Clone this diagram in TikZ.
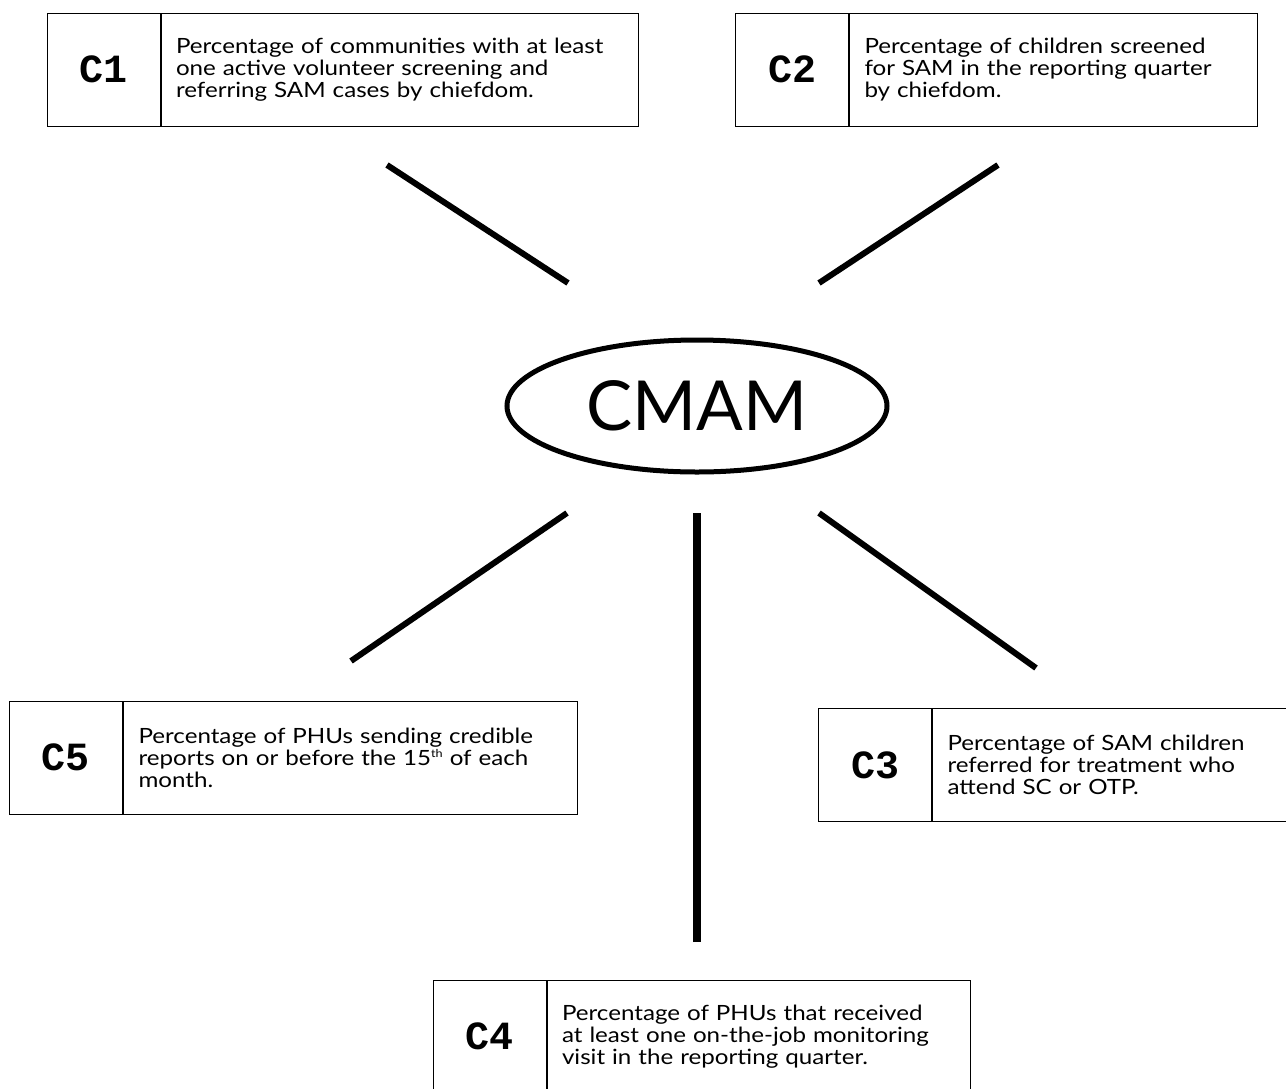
\documentclass[tikz,border=0pt]{standalone}
\usepackage{fontspec}
\setmainfont{Lato}
\setmonofont{Liberation Mono}
\newfontfamily\notefont{Lato}[FakeStretch=1.15]
\usetikzlibrary{shapes,positioning}

\begin{document}
\begin{tikzpicture}[x=1pt, y=-1pt,
    codebox/.style={rectangle, draw, line width=1pt, minimum width=113pt, minimum height=113pt, inner sep=0pt, font=\ttfamily\bfseries\fontsize{40}{40}\selectfont},
    notebox/.style={rectangle, draw, line width=1pt, minimum height=113pt, inner xsep=15pt, inner ysep=0pt, align=left, font=\notefont\fontsize{21}{22}\selectfont},
    spoke/.style={line width=6pt}]
    \clip (0,0) rectangle (1286,1088);

    % hub
    \node (cmam) [ellipse, draw, line width=5pt, minimum width=380pt, minimum height=132pt, inner sep=0pt, font=\fontsize{69}{69}\selectfont] at (697,406) {CMAM};

    % indicator boxes
    \node (c1) [codebox] at (103.5,69.5) {C1};
    \node (c1note) [notebox, text width=447pt, right=0pt of c1] {Percentage of communities with at least\\ one active volunteer screening and\\ referring SAM cases by chiefdom.};
    \node (c2) [codebox] at (792,69.5) {C2};
    \node (c2note) [notebox, text width=378pt, right=0pt of c2] {Percentage of children screened\\ for SAM in the reporting quarter\\ by chiefdom.};
    \node (c3) [codebox] at (875,765) {C3};
    \node (c3note) [notebox, text width=340pt, right=0pt of c3] {Percentage of SAM children\\ referred for treatment who\\ attend SC or OTP.};
    \node (c4) [codebox] at (489.5,1036.5) {C4};
    \node (c4note) [notebox, text width=393pt, right=0pt of c4] {Percentage of PHUs that received\\ at least one on-the-job monitoring\\ visit in the reporting quarter.};
    \node (c5) [codebox] at (66,757.5) {C5};
    \node (c5note) [notebox, text width=424pt, right=0pt of c5] {Percentage of PHUs sending credible\\ reports on or before the 15\smash{\raisebox{8pt}{\fontsize{11}{11}\selectfont th}} of each\\ month.};

    % spoke ends
    \coordinate (c1end) at (387,165);
    \coordinate (c1hub) at (568,283);
    \coordinate (c2end) at (998,165);
    \coordinate (c2hub) at (819,283);
    \coordinate (c3end) at (1036,668);
    \coordinate (c3hub) at (819,513);
    \coordinate (c4end) at (697,942);
    \coordinate (c4hub) at (697,513);
    \coordinate (c5end) at (351,661);
    \coordinate (c5hub) at (567,513);

    \draw[spoke] (c1end) -- (c1hub);
    \draw[spoke] (c2end) -- (c2hub);
    \draw[spoke] (c3end) -- (c3hub);
    \draw[spoke, line width=8pt] (c4end) -- (c4hub);
    \draw[spoke] (c5end) -- (c5hub);
\end{tikzpicture}
\end{document}
